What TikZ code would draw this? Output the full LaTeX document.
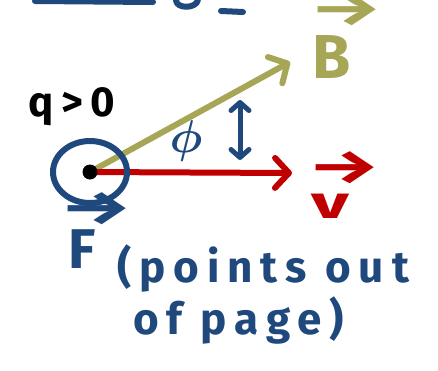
\documentclass[tikz,border=0pt]{standalone}
\usepackage{fix-cm}
\usepackage{fontspec}
\setmainfont{Fira Sans}
\newfontfamily\handfont[LetterSpace=18]{Fira Sans}
\usepackage{xcolor}
\definecolor{inkblue}{RGB}{31, 73, 125}
\definecolor{inkolive}{RGB}{166, 166, 86}
\definecolor{inkred}{RGB}{192, 0, 0}
\usepackage{tikz}
\usetikzlibrary{arrows.meta, positioning, calc}

\tikzset{
    pen/.style={line width=6pt, line cap=round, line join=round},
    handtext/.style={font=\handfont\bfseries\fontsize{44}{52}\selectfont, inner sep=0pt},
    vectext/.style={font=\handfont\bfseries\fontsize{40}{30}\selectfont, inner sep=0pt, anchor=base},
}
% arrow over a letter: #1 gap, #2 letter
\newcommand{\vecsign}[2]{\vbox{\offinterlineskip\halign{\hfil##\hfil\cr
    \hspace*{0.7em}\scalebox{2}[1.2]{→}\cr\noalign{\kern#1}#2\cr}}}

\begin{document}
\begin{tikzpicture}[x=1pt, y=-1pt, >={Straight Barb[length=14pt, width=30pt, round]}]
    \useasboundingbox (0,0) rectangle (438,370);
    % strokes cut off by the top edge
    \draw[pen, inkblue] (35,1) -- (153,2);
    \draw[pen, inkblue] (176,0) .. controls (176,9) and (196,9) .. (198,0);
    \draw[pen, inkblue] (221,11) -- (243,12);
    % charge and vectors
    \coordinate (Btip) at (290,62);
    \coordinate (vtip) at (292,173);
    \coordinate (center) at (90,172);
    \draw[pen, inkolive, ->] (center) -- (Btip);
    \draw[pen, inkred, ->] (center) -- (vtip);
    \draw[pen, inkblue] (center) ellipse [x radius=37pt, y radius=31pt];
    \node[circle, fill=black, minimum size=15pt, inner sep=0pt] (charge) at (center) {};
    \node[handtext, font=\handfont\bfseries\fontsize{42}{50}\selectfont, anchor=base] (qlabel) at (72,116) {q>0};
    \node[vectext, inkolive] (Blabel) at (332,78) {\vecsign{9pt}{\fontsize{62}{62}\selectfont B}};
    \node[vectext, inkred] (vlabel) at (330,218) {\vecsign{10pt}{\fontsize{46}{46}\selectfont\scalebox{1.6}[1]{v}}};
    % angle between B and v
    \node[handtext, font=\fontsize{46}{46}\selectfont\boldmath, inkblue] (philabel) at (186,141) {$\phi$};
    \coordinate (phitop) at (240,100);
    \coordinate (phibot) at (240,160);
    \draw[pen, line width=5pt, inkblue, {Straight Barb[length=8pt, width=18pt, round]}-{Straight Barb[length=8pt, width=18pt, round]}] (phitop) -- (phibot);
    % force
    \node[vectext, inkblue] (Flabel) at (82,268) {\vecsign{4pt}{\fontsize{56}{56}\selectfont F}};
    \node[handtext, inkblue, anchor=base west] (outtext) at (117,282) {(points out};
    \node[handtext, inkblue, anchor=base west] (pagetext) at (133,334) {of page)};
\end{tikzpicture}
\end{document}
